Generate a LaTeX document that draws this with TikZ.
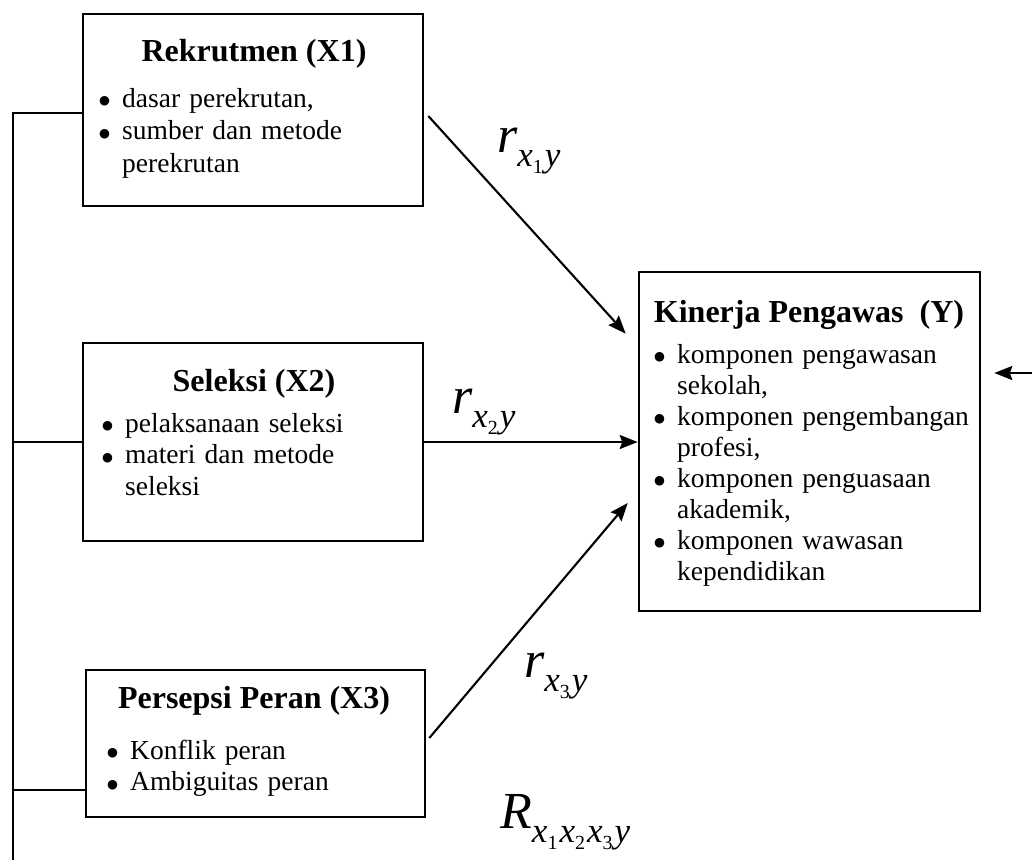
\documentclass[tikz,border=0pt]{standalone}
\usepackage{fontspec}
\setmainfont{Liberation Serif}
\newfontfamily\dvfont{DejaVu Sans}
\usetikzlibrary{arrows.meta,calc}
\newlength{\bw}\setlength{\bw}{21pt}
\newcommand{\bul}{\hspace*{-2pt}\raisebox{2.2pt}{\dvfont\fontsize{12.5}{12.5}\selectfont ●}}
\newcommand{\itm}[1]{\makebox[\bw][l]{\bul}#1}
\newcommand{\cont}[1]{\hspace*{\bw}#1}
\newcommand{\just}[2]{\makebox[#1][s]{#2}}
\newcommand{\sd}[1]{\raisebox{-7pt}{\fontsize{20}{20}\selectfont\upshape #1}\kern2pt}
\newcommand{\lab}[2]{{\fontsize{52}{52}\selectfont\itshape #1}\raisebox{-14pt}{\fontsize{35}{35}\selectfont\itshape #2}}
\tikzset{
  box/.style={draw, line width=2.6pt, inner sep=0pt},
  ttl/.style={anchor=base, inner sep=0pt, font=\fontsize{32}{38}\selectfont\bfseries},
  body/.style={anchor=base west, inner sep=0pt, text width=400pt, align=left,
    font=\fontsize{27.5}{31.5}\selectfont},
  conn/.style={line width=2.2pt},
  arr/.style={line width=2.1pt, -{Stealth[length=18pt,width=14pt,inset=2.5pt]}},
  lbl/.style={anchor=base west, inner sep=0pt}
}
\begin{document}
\begin{tikzpicture}[x=1pt,y=-1pt]
\useasboundingbox (0,0) rectangle (1032,860);
% boxes
\node[box, minimum width=340pt, minimum height=192pt] (x1) at (253,110) {};
\node[box, minimum width=340pt, minimum height=198pt] (x2) at (253,442) {};
\node[box, minimum width=339pt, minimum height=147pt] (x3) at (255.5,743.5) {};
\node[box, minimum width=341pt, minimum height=339pt] (y) at (809.5,441.5) {};
% titles
\node[ttl] (t1) at (254,61) {Rekrutmen (X1)};
\node[ttl] (t2) at (254,391) {Seleksi (X2)};
\node[ttl] (t3) at (254,708) {Persepsi Peran (X3)};
\node[ttl] (ty) at (809,322) {Kinerja Pengawas\ \ (Y)};
% bodies
\node[body, font=\fontsize{27.5}{32.5}\selectfont] (b1) at (101,107) {\itm{dasar perekrutan,}\\
\itm{\just{278pt}{sumber dan metode}}\\
\cont{perekrutan}};
\node[body] (b2) at (104,432) {\itm{pelaksanaan seleksi}\\
\itm{materi dan metode}\\
\cont{seleksi}};
\node[body] (b3) at (109,759) {\itm{Konflik peran}\\
\itm{Ambiguitas peran}};
\node[body, font=\fontsize{27.5}{31}\selectfont] (by) at (656,363) {\itm{\just{288pt}{komponen pengawasan}}\\
\cont{sekolah,}\\
\itm{komponen pengembangan}\\
\cont{profesi,}\\
\itm{komponen penguasaan}\\
\cont{akademik,}\\
\itm{komponen wawasan}\\
\cont{kependidikan}};
% left connector lines
\coordinate (lb) at (13,860);
\draw[conn] ([yshift=-3pt]x1.west) -| (lb);
\draw[conn] (x2.west) -- (x2.west -| lb);
\draw[conn] ([yshift=28pt]x3.south west) -- ([yshift=28pt]x3.south west -| lb);
% arrows
\draw[arr] ([shift={(4,6)}]x1.east) -- ([shift={(-12,63)}]y.north west);
\draw[arr] (x2.east) -- (x2.east -| y.west);
\draw[arr] ([shift={(3,-5.5)}]x3.east) -- ([shift={(-10,61.5)}]y.west);
\coordinate (rs) at (1032,373);
\draw[arr] (rs) -- ([xshift=13pt]y.east |- rs);
% labels
\node[lbl] (l1) at (497,152) {\lab{r}{x\sd{1}y}};
\node[lbl] (l2) at (452,413) {\lab{r}{x\sd{2}y}};
\node[lbl] (l3) at (524,677) {\lab{r}{x\sd{3}y}};
\node[lbl] (l4) at (500,828) {\lab{R}{x\sd{1}x\sd{2}x\sd{3}y}};
\end{tikzpicture}
\end{document}
